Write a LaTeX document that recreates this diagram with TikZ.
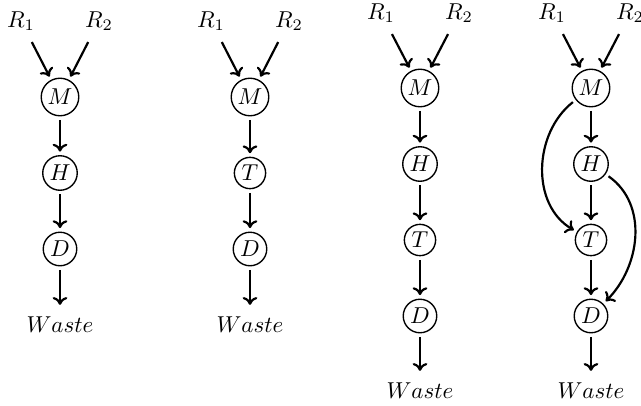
\documentclass[tikz,border=0pt]{standalone}
\usetikzlibrary{arrows.meta}
\begin{document}
\begin{tikzpicture}[x=0.4348pt,y=-0.4348pt,
  st/.style={circle,draw,semithick,inner sep=1.3pt,outer sep=1.8pt},
  src/.style={inner sep=2pt,outer sep=3pt},
  sink/.style={inner sep=3.33pt,outer sep=2pt},
  flow/.style={-{To[length=3.4pt,width=6.4pt]},line width=0.95pt}]
\useasboundingbox (0,0) rectangle (641,406);

% Process chain M -> H -> D
\node[src] (aR1) at (21,21) {$R_1$};
\node[src] (aR2) at (99,21) {$R_2$};
\node[st] (aM) at (60,97) {$M$};
\node[st] (aH) at (60,173) {$H$};
\node[st] (aD) at (60,249) {$D$};
\node[sink] (aW) at (60,325) {$Waste$};
\draw[flow] (aR1) -- (aM);
\draw[flow] (aR2) -- (aM);
\draw[flow] (aM) -- (aH);
\draw[flow] (aH) -- (aD);
\draw[flow] (aD) -- (aW);

% Process chain M -> T -> D
\node[src] (bR1) at (211,21) {$R_1$};
\node[src] (bR2) at (289,21) {$R_2$};
\node[st] (bM) at (250,97) {$M$};
\node[st] (bT) at (250,173) {$T$};
\node[st] (bD) at (250,249) {$D$};
\node[sink] (bW) at (250,325) {$Waste$};
\draw[flow] (bR1) -- (bM);
\draw[flow] (bR2) -- (bM);
\draw[flow] (bM) -- (bT);
\draw[flow] (bT) -- (bD);
\draw[flow] (bD) -- (bW);

% Process chain M -> H -> T -> D
\node[src] (cR1) at (381,13) {$R_1$};
\node[src] (cR2) at (459,13) {$R_2$};
\node[st] (cM) at (420,88) {$M$};
\node[st] (cH) at (420,164) {$H$};
\node[st] (cT) at (420,240) {$T$};
\node[st] (cD) at (420,316) {$D$};
\node[sink] (cW) at (420,391) {$Waste$};
\draw[flow] (cR1) -- (cM);
\draw[flow] (cR2) -- (cM);
\draw[flow] (cM) -- (cH);
\draw[flow] (cH) -- (cT);
\draw[flow] (cT) -- (cD);
\draw[flow] (cD) -- (cW);

% Chain with bypasses M -> T and H -> D
\node[src] (dR1) at (552,13) {$R_1$};
\node[src] (dR2) at (630,13) {$R_2$};
\node[st] (dM) at (591,88) {$M$};
\node[st] (dH) at (591,164) {$H$};
\node[st] (dT) at (591,240) {$T$};
\node[st] (dD) at (591,316) {$D$};
\node[sink] (dW) at (591,391) {$Waste$};
\draw[flow] (dR1) -- (dM);
\draw[flow] (dR2) -- (dM);
\draw[flow] (dM) -- (dH);
\draw[flow] (dH) -- (dT);
\draw[flow] (dT) -- (dD);
\draw[flow] (dD) -- (dW);
\draw[flow] (dM) to[out=218,in=150] (dT);
\draw[flow] (dH) to[out=-35,in=45] (dD);
\end{tikzpicture}
\end{document}
